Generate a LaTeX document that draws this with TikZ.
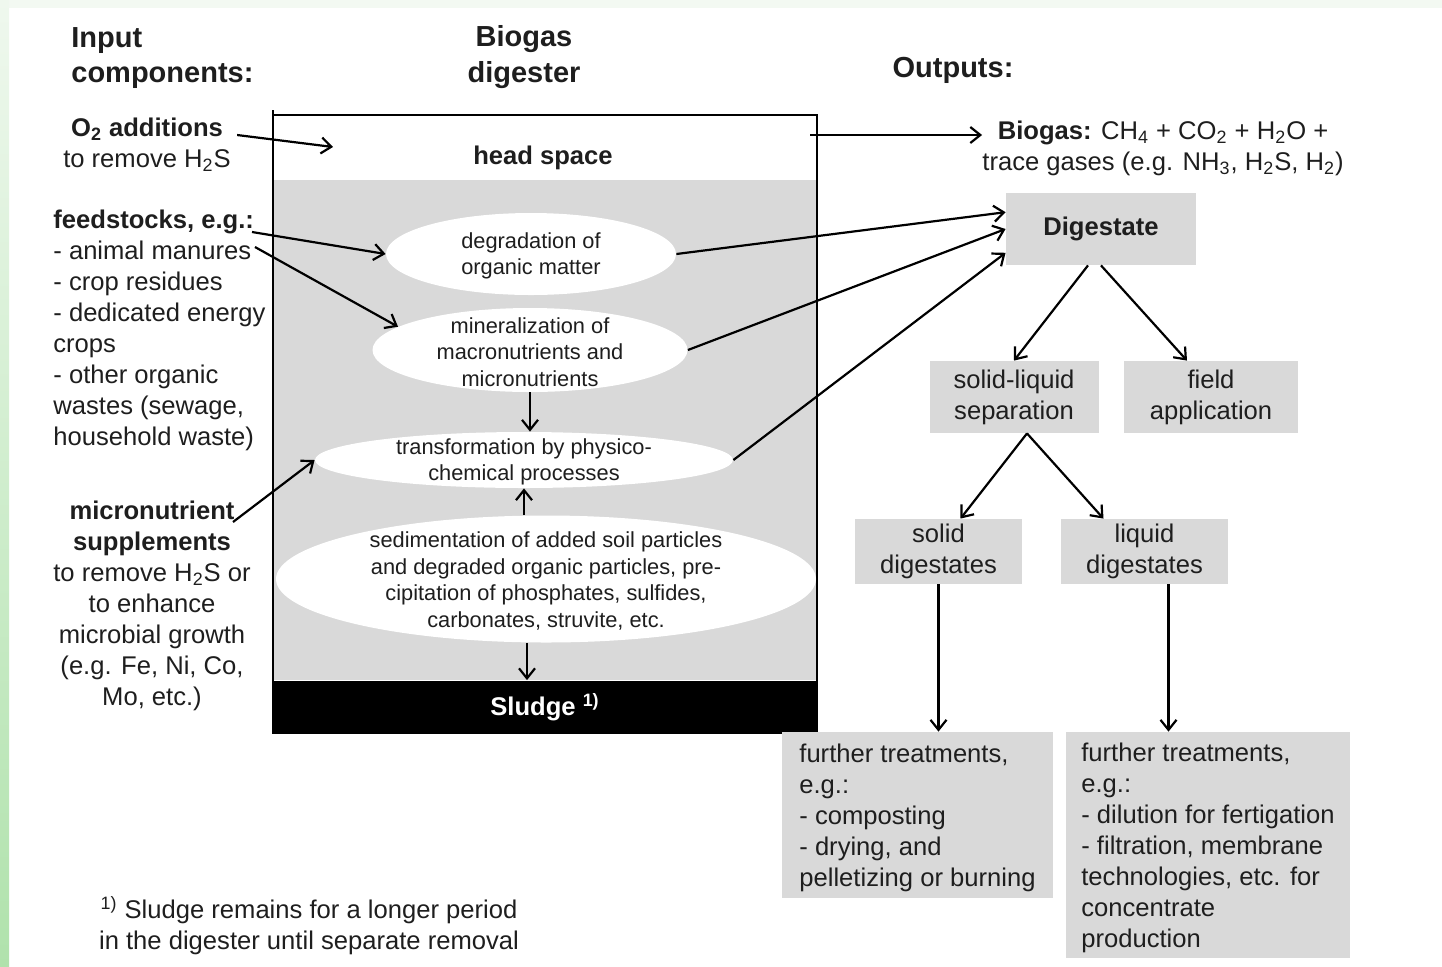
\documentclass[tikz,border=0pt]{standalone}
\usepackage{fontspec}
\setmainfont{Liberation Sans}
\usetikzlibrary{shapes.geometric,arrows.meta}
\definecolor{tankgray}{HTML}{D9D9D9}
\definecolor{stripgreen}{HTML}{F3F9F2}
\definecolor{palegreen}{HTML}{EFF8EE}
\definecolor{deepgreen}{HTML}{B0E2AC}
\definecolor{inkgray}{HTML}{1E1E1E}
\newcommand\txtsize{\fontsize{12.8}{15.5}\selectfont}
\newcommand\titlesize{\fontsize{14.5}{17.8}\selectfont}
\tikzset{
    arr/.style={line width=1.1pt,-{Straight Barb[length=5pt,width=8pt]}},
    txt/.style={inner sep=0pt,text=inkgray,font=\txtsize},
    bold/.style={inner sep=0pt,text=inkgray,font=\txtsize\bfseries},
    title/.style={inner sep=0pt,text=inkgray,font=\titlesize\bfseries},
    blob/.style={ellipse,fill=white,inner sep=0pt},
    blobtext/.style={inner sep=0pt,align=center,text=inkgray,font=\fontsize{10.9}{13.2}\selectfont},
    graybox/.style={fill=tankgray,inner sep=0pt,align=center,text=inkgray,font=\txtsize},
}
\begin{document}
\begin{tikzpicture}[x=0.5pt,y=-0.5pt]
    \useasboundingbox (0,0) rectangle (1442,966);
    \fill[stripgreen] (0,0) rectangle (1442,8);
    \shade[top color=palegreen,bottom color=deepgreen] (0,0) rectangle (9,966);

    \node[title,align=left,anchor=west] (intitle) at (71,58) {Input\\components:};
    \node[title,align=center] (digtitle) at (524,57) {Biogas\\digester};
    \node[title] (outtitle) at (953,70) {Outputs:};

    \fill[tankgray] (273,180) rectangle (817,680);
    \node[bold,fill=black,text=white,minimum width=272pt,minimum height=26.5pt] (sludge) at (545,707) {Sludge \textsuperscript{1)}};
    \draw[line width=1pt] (273,110) -- (273,733) -- (817,733) -- (817,115) -- (273,115);
    \node[bold] (head) at (543,158) {head space};

    \node[blob,minimum width=145pt,minimum height=41pt] (degr) at (531,254) {};
    \node[blobtext] (degrtxt) at ([yshift=-1pt]degr) {degradation of\\organic matter};
    \node[blob,minimum width=157.5pt,minimum height=42pt] (miner) at (530,350) {};
    \node[blobtext] (minertxt) at ([yshift=-1pt]miner) {mineralization of\\macronutrients and\\micronutrients};
    \node[blob,minimum width=209pt,minimum height=28pt] (trans) at (524,460) {};
    \node[blobtext] (transtxt) at ([yshift=-1pt]trans) {transformation by physico-\\chemical processes};
    \node[blob,minimum width=270pt,minimum height=63.5pt] (sed) at (546,579) {};
    \node[blobtext] (sedtxt) at ([yshift=-1pt]sed) {sedimentation of added soil particles\\and degraded organic particles, pre-\\cipitation of phosphates, sulfides,\\carbonates, struvite, etc.};

    \node[txt,align=center] (o2) at (147,145) {\textbf{O\textsubscript{2} additions}\\to remove H\textsubscript{2}S};
    \node[txt,align=left,anchor=west] (feed) at (53,330) {\textbf{feedstocks, e.g.:}\\- animal manures\\- crop residues\\- dedicated energy\\crops\\- other organic\\wastes (sewage,\\household waste)};
    \node[txt,align=center] (micro) at (152,606) {\textbf{micronutrient}\\\textbf{supplements}\\to remove H\textsubscript{2}S or\\to enhance\\microbial growth\\(e.g. Fe, Ni, Co,\\Mo, etc.)};
    \coordinate (o2in) at (333,147);
    \coordinate (feedA) at (252,232);
    \coordinate (feedB) at (255,247);
    \coordinate (microA) at (233,522);

    \node[txt,align=center] (gas) at (1163,148) {\textbf{Biogas:} CH\textsubscript{4} + CO\textsubscript{2} + H\textsubscript{2}O +\\trace gases (e.g. NH\textsubscript{3}, H\textsubscript{2}S, H\textsubscript{2})};
    \coordinate (gasout) at (810,135);
    \node[graybox,font=\txtsize\bfseries,minimum width=95pt,minimum height=36pt] (dig) at (1101,229) {Digestate};
    \node[graybox,minimum width=84.5pt,minimum height=36pt] (sl) at (1014,397) {solid-liquid\\separation};
    \node[graybox,minimum width=87pt,minimum height=36pt] (field) at (1211,397) {field\\application};
    \node[graybox,minimum width=83.5pt,minimum height=32.5pt] (solid) at (938.5,551.5) {solid\\digestates};
    \node[graybox,minimum width=83.5pt,minimum height=32.5pt] (liq) at (1144.5,551.5) {liquid\\digestates};
    \node[graybox,minimum width=135.5pt,minimum height=83pt] (ftA) at (917.5,815) {};
    \node[txt,align=left] (ftAtxt) at ([yshift=-1.5pt]ftA) {further treatments,\\e.g.:\\- composting\\- drying, and\\pelletizing or burning};
    \node[graybox,minimum width=142pt,minimum height=113pt] (ftB) at (1208,845) {};
    \node[txt,align=left] (ftBtxt) at ([yshift=-1.5pt]ftB) {further treatments,\\e.g.:\\- dilution for fertigation\\- filtration, membrane\\technologies, etc. for\\concentrate\\production};

    \node[txt,align=center] (note) at (309,926) {\textsuperscript{1)} Sludge remains for a longer period\\in the digester until separate removal};

    \draw[arr] ([xshift=3pt,yshift=5pt]o2.east) -- (o2in);
    \draw[arr] (feedA) -- (degr.west);
    \draw[arr] (feedB) -- (miner.170);
    \draw[arr] (microA) -- (trans.west);
    \draw[arr] (miner.south) -- (miner.south |- trans.north);
    \draw[arr] (trans.south |- sed.north) -- (trans.south);
    \draw[arr] ([xshift=1.5pt]trans.south |- sed.south) -- ([xshift=1.5pt]trans.south |- sludge.north);
    \draw[arr] (gasout) -- (gasout -| gas.west);
    \draw[arr] (degr.east) -- (dig.170);
    \draw[arr] (miner.east) -- (dig.west);
    \draw[arr] (trans.east) -- (dig.194);
    \draw[arr] ([xshift=-6.5pt]dig.south) -- (sl.north);
    \draw[arr] (dig.south) -- ([xshift=-12pt]field.north);
    \draw[arr] ([xshift=6.5pt]sl.south) -- ([xshift=11pt]solid.north);
    \draw[arr] ([xshift=6.5pt]sl.south) -- ([xshift=-20.5pt]liq.north);
    \draw[arr] (solid.south) -- (solid.south |- ftA.north);
    \draw[arr] ([xshift=12pt]liq.south) -- ([xshift=12pt]liq.south |- ftB.north);
\end{tikzpicture}
\end{document}
